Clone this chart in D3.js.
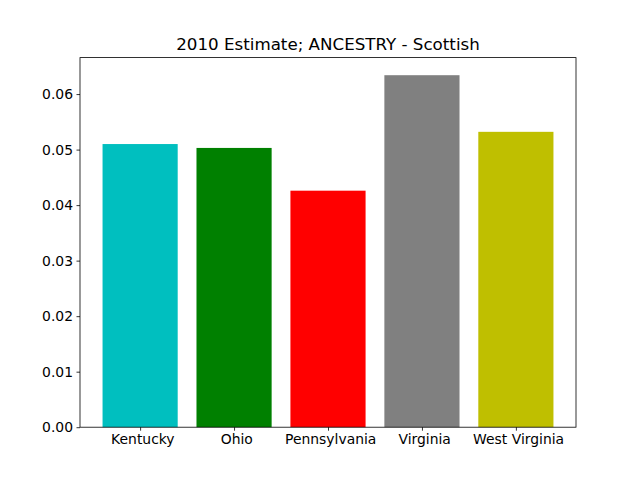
<!DOCTYPE html>
<html>
<head>
<meta charset="utf-8">
<script src="https://cdn.jsdelivr.net/npm/d3@7"></script>
<style>
  body { margin: 0; background: #fff; }
  text { font-family: "DejaVu Sans", sans-serif; white-space: pre; }
</style>
</head>
<body>
<svg id="chart" width="640" height="480"></svg>
<script>
// data
const states = [' Kentucky', ' Ohio', ' Pennsylvania', ' Virginia', ' West Virginia'];
const values = [0.0510, 0.0503, 0.0426, 0.0634, 0.0532];
const colours = ['#00bfbf', '#008000', '#ff0000', '#808080', '#bfbf00'];
const yTicks = [0, 0.01, 0.02, 0.03, 0.04, 0.05, 0.06];

const margin = { top: 57.6, right: 64, bottom: 52.8, left: 80 };
const width = 640 - margin.left - margin.right;
const height = 480 - margin.top - margin.bottom;

const svg = d3.select('#chart');
const g = svg.append('g')
  .attr('transform', 'translate(' + margin.left + ',' + margin.top + ')');

// matplotlib-like limits: bars width 0.8, 5% margins
const barW = 0.8;
const x = d3.scaleLinear()
  .domain([-barW / 2 - 0.05 * (states.length - 1 + barW), states.length - 1 + barW / 2 + 0.05 * (states.length - 1 + barW)])
  .range([0, width]);
const y = d3.scaleLinear()
  .domain([0, d3.max(values) * 1.05])
  .range([height, 0]);

g.selectAll('.bar')
  .data(values)
  .join('rect')
  .attr('class', 'bar')
  .attr('x', (d, i) => x(i - barW / 2))
  .attr('width', (d, i) => x(i + barW / 2) - x(i - barW / 2))
  .attr('y', d => y(d))
  .attr('height', d => y(0) - y(d))
  .attr('fill', (d, i) => colours[i]);

// axes
const yAxis = g.append('g')
  .call(d3.axisLeft(y).tickValues(yTicks).tickFormat(d3.format('.2f')).tickSize(3.5).tickPadding(3.5));
const xAxis = g.append('g')
  .attr('transform', 'translate(0,' + height + ')')
  .call(d3.axisBottom(x).tickValues(d3.range(states.length)).tickFormat(i => states[i]).tickSize(3.5).tickPadding(3.5));

[xAxis, yAxis].forEach(a => {
  a.select('.domain').remove();
  a.selectAll('text').attr('font-size', 13.9).attr('fill', '#000').style('font-family', '"DejaVu Sans", sans-serif');
  a.selectAll('line').attr('stroke', '#000').attr('stroke-width', 0.8);
});

// frame
g.append('rect')
  .attr('width', width)
  .attr('height', height)
  .attr('fill', 'none')
  .attr('stroke', '#000')
  .attr('stroke-width', 0.8);

// title
svg.append('text')
  .attr('x', margin.left + width / 2)
  .attr('y', margin.top - 8)
  .attr('text-anchor', 'middle')
  .attr('font-size', 16.7)
  .text('2010 Estimate; ANCESTRY - Scottish');
</script>
</body>
</html>
